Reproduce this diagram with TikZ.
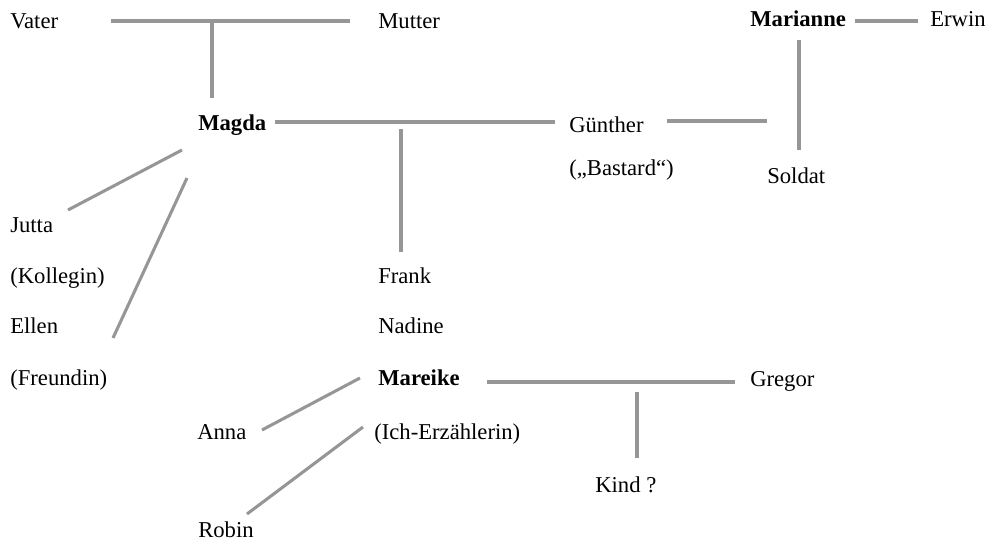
\documentclass[tikz,border=0pt]{standalone}
\usepackage{fontspec}
\setmainfont{Liberation Serif}
\usepackage{tikz}
\usetikzlibrary{positioning}
\definecolor{linegray}{RGB}{150,150,150}

\begin{document}
\begin{tikzpicture}[x=0.75pt, y=-0.75pt, font=\fontsize{17pt}{20pt}\selectfont]
        \tikzset{
        person/.style  = {inner sep=0pt, anchor=base west},
        main/.style    = {person, font=\fontsize{17pt}{20pt}\selectfont\bfseries},
        rel/.style     = {draw=linegray, line width=2.3pt}
        }
        \useasboundingbox (0,0) rectangle (997,543);

        % Parents and Magda
        \node[person] (vater) at (10,28) {Vater};
        \node[person] (mutter) at (378,28) {Mutter};
        \node[main] (magda) at (198,130) {Magda};
        \node[person] (guenther) at (569,132) {Günther};
        \node[person] (bastard) at (569,175) {(„Bastard“)};

        % Marianne
        \node[main] (marianne) at (750,26) {Marianne};
        \node[person] (erwin) at (930,26) {Erwin};
        \node[person] (soldat) at (767,183) {Soldat};

        % Friends of Magda
        \node[person] (jutta) at (10,232) {Jutta};
        \node[person] (kollegin) at (10,283) {(Kollegin)};
        \node[person] (ellen) at (10,333) {Ellen};
        \node[person] (freundin) at (10,385) {(Freundin)};

        % Children
        \node[person] (frank) at (378,283) {Frank};
        \node[person] (nadine) at (378,333) {Nadine};
        \node[main] (mareike) at (378,385) {Mareike};
        \node[person] (ich) at (374,439) {(Ich-Erzählerin)};
        \node[person] (anna) at (197,439) {Anna};
        \node[person] (robin) at (198,537) {Robin};
        \node[person] (gregor) at (750,386) {Gregor};
        \node[person] (kind) at (595,492) {Kind ?};

        % Line ends
        \coordinate (vm1) at (111,21);  \coordinate (vm2) at (350,21);
        \coordinate (vmd) at (212,22);  \coordinate (mg0) at (212,98);
        \coordinate (mg1) at (275,122); \coordinate (mg2) at (555,122);
        \coordinate (mgd) at (401,129); \coordinate (fr0) at (401,252);
        \coordinate (gs1) at (667,121); \coordinate (gs2) at (767,121);
        \coordinate (me1) at (855,21);  \coordinate (me2) at (918,21);
        \coordinate (ms1) at (799,40);  \coordinate (ms2) at (799,150);
        \coordinate (mj1) at (182,150); \coordinate (mj2) at (68,210);
        \coordinate (ml1) at (187,178); \coordinate (ml2) at (113,338);
        \coordinate (mr1) at (487,382); \coordinate (mr2) at (735,382);
        \coordinate (kd1) at (637,392); \coordinate (kd2) at (637,458);
        \coordinate (an1) at (360,378); \coordinate (an2) at (262,430);
        \coordinate (rb1) at (363,427); \coordinate (rb2) at (247,514);

        % Connections
        \draw[rel] (vm1) -- (vm2);
        \draw[rel] (vmd) -- (mg0);
        \draw[rel] (mg1) -- (mg2);
        \draw[rel] (mgd) -- (fr0);
        \draw[rel] (gs1) -- (gs2);
        \draw[rel] (me1) -- (me2);
        \draw[rel] (ms1) -- (ms2);
        \draw[rel] (mj1) -- (mj2);
        \draw[rel] (ml1) -- (ml2);
        \draw[rel] (mr1) -- (mr2);
        \draw[rel] (kd1) -- (kd2);
        \draw[rel] (an1) -- (an2);
        \draw[rel] (rb1) -- (rb2);
    \end{tikzpicture}
\end{document}
